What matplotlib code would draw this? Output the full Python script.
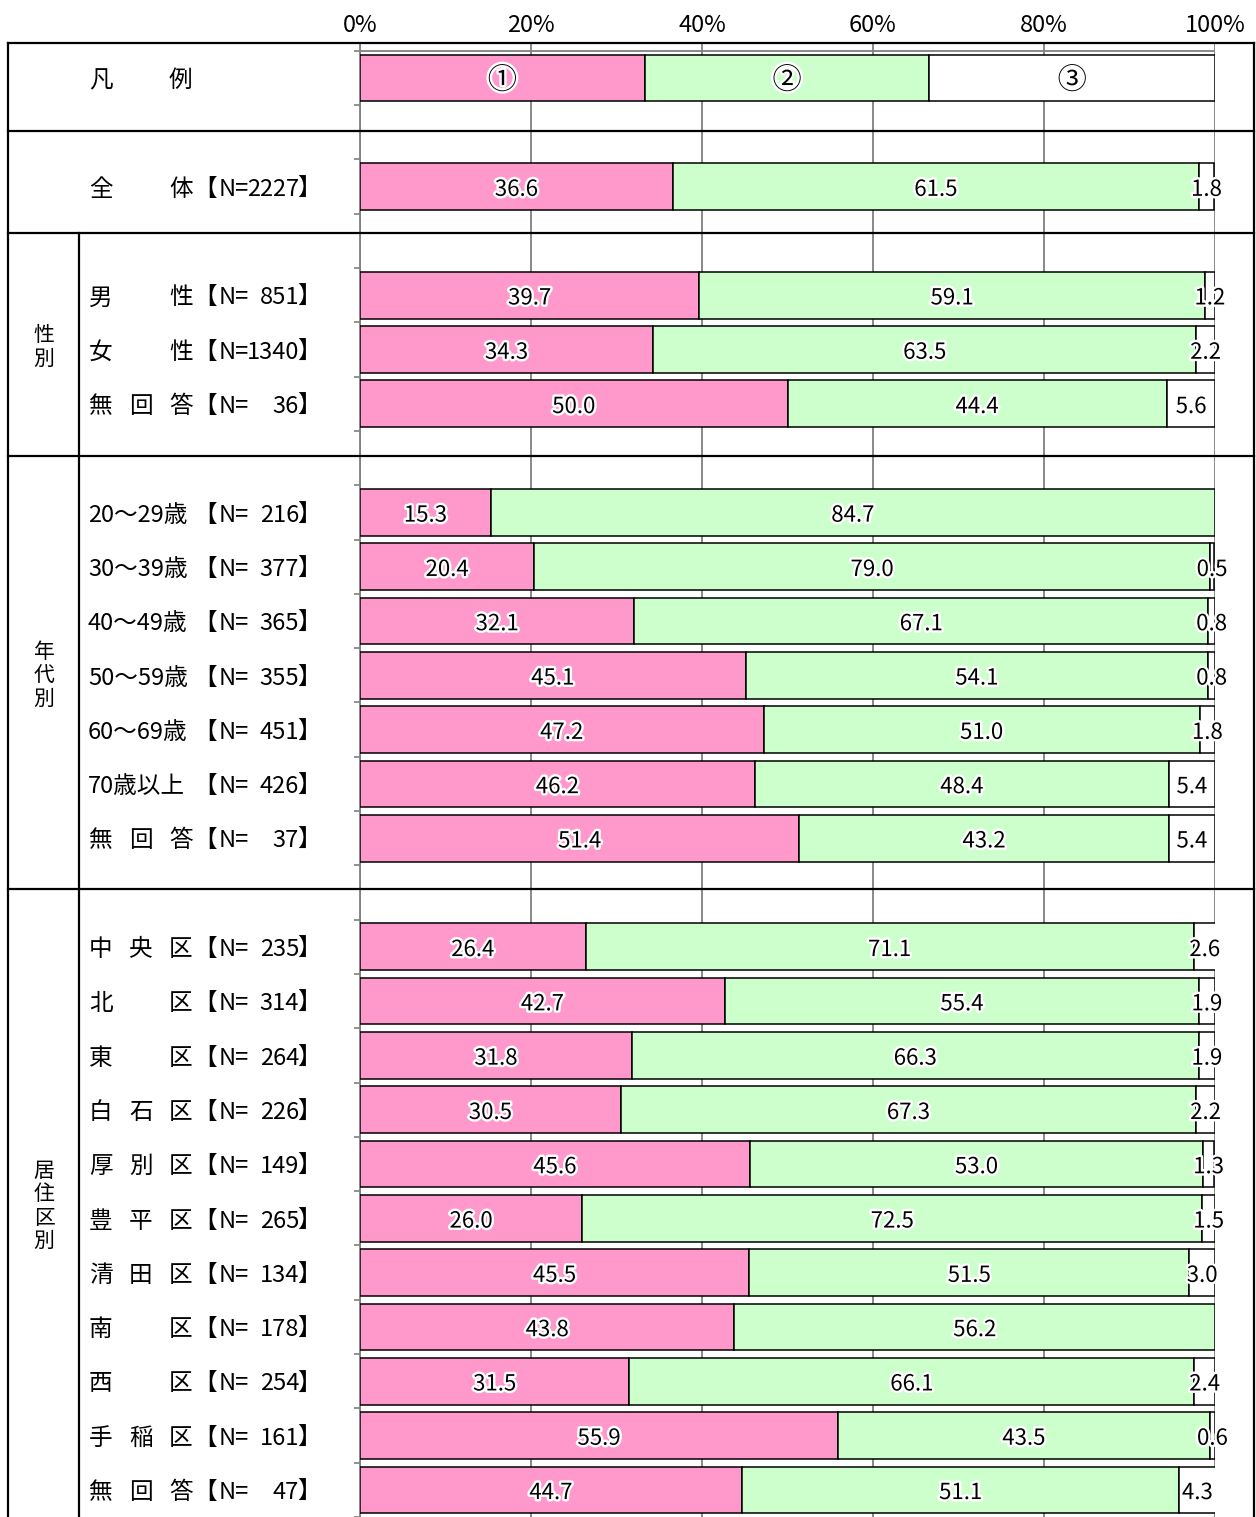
import numpy as np
import matplotlib
matplotlib.use("Agg")
import matplotlib.pyplot as plt
import matplotlib.patheffects as pe
from matplotlib.transforms import blended_transform_factory
from matplotlib.lines import Line2D

plt.rcParams['font.family'] = ['Noto Sans CJK JP', 'DejaVu Sans']

W, H = 1256, 1517

# --- データ ---
names = ["全体", "男性", "女性", "無回答",
         "20～29歳", "30～39歳", "40～49歳", "50～59歳", "60～69歳", "70歳以上", "無回答",
         "中央区", "北区", "東区", "白石区", "厚別区", "豊平区", "清田区", "南区", "西区", "手稲区", "無回答"]
ns = ["2227", "851", "1340", "36",
      "216", "377", "365", "355", "451", "426", "37",
      "235", "314", "264", "226", "149", "265", "134", "178", "254", "161", "47"]
v1 = [36.6, 39.7, 34.3, 50.0, 15.3, 20.4, 32.1, 45.1, 47.2, 46.2, 51.4,
      26.4, 42.7, 31.8, 30.5, 45.6, 26.0, 45.5, 43.8, 31.5, 55.9, 44.7]
v2 = [61.5, 59.1, 63.5, 44.4, 84.7, 79.0, 67.1, 54.1, 51.0, 48.4, 43.2,
      71.1, 55.4, 66.3, 67.3, 53.0, 72.5, 51.5, 56.2, 66.1, 43.5, 51.1]
v3 = [1.8, 1.2, 2.2, 5.6, 0.0, 0.5, 0.8, 0.8, 1.8, 5.4, 5.4,
      2.6, 1.9, 1.9, 2.2, 1.3, 1.5, 3.0, 0.0, 2.4, 0.6, 4.3]
slots = [2, 4, 5, 6, 8, 9, 10, 11, 12, 13, 14,
         16, 17, 18, 19, 20, 21, 22, 23, 24, 25, 26]
legend_vals = [33.3, 33.3, 33.4]
legend_marks = ["①", "②", "③"]
groups = [("性別", 2.85, 6.96), ("年代別", 6.96, 14.94), ("居住区別", 14.94, 26.5)]
sep_lines = [0.98, 2.85, 6.96, 14.94]
colors = ["#FF99CC", "#CCFFCC", "#FFFFFF"]

fig = plt.figure(figsize=(W / 100, H / 100), dpi=100)
ax = fig.add_axes([360 / W, 0, 855 / W, (H - 43) / H])
ax.set_xlim(0, 100)
ax.set_ylim(26.5, -0.645)

stroke = [pe.withStroke(linewidth=3.5, foreground="white")]
bh = 0.86
dy = 0.05   # 文字の縦位置の補正

# 凡例の棒
left = 0
for v, c, m in zip(legend_vals, colors, legend_marks):
    ax.barh(0, v, left=left, height=bh, color=c, edgecolor="black", linewidth=1.1, zorder=3)
    ax.text(left + v / 2, 0 + dy, m, ha="center", va="center", fontsize=21, zorder=5, path_effects=stroke)
    left += v

# データの棒
for s, a, b, c3 in zip(slots, v1, v2, v3):
    left = 0
    for v, c in zip([a, b, c3], colors):
        if v <= 0:
            continue
        ax.barh(s, v, left=left, height=bh, color=c, edgecolor="black", linewidth=1.1, zorder=3)
        ax.text(left + v / 2, s + dy, f"{v:.1f}", ha="center", va="center", fontsize=16,
                zorder=5, path_effects=stroke, clip_on=False)
        left += v

# 軸まわり
ax.xaxis.tick_top()
ax.set_xticks(np.arange(0, 101, 20))
ax.set_xticklabels([f"{t}%" for t in range(0, 101, 20)], fontsize=17)
ax.tick_params(axis="x", length=0, pad=4)
ax.set_yticks([])
ax.set_yticks(np.arange(-0.5, 27, 1), minor=True)
ax.tick_params(axis="y", which="minor", direction="out", length=4, color="#808080", width=1.2)
ax.grid(axis="x", color="#808080", linewidth=1.3, zorder=1)
for sp in ["top", "right", "bottom"]:
    ax.spines[sp].set_visible(False)
ax.spines["left"].set_color("#808080")
ax.spines["left"].set_linewidth(1.3)
ax.axhline(-0.5, color="#808080", linewidth=1.3, zorder=2)

# 左側のラベル
tr = blended_transform_factory(fig.transFigure, ax.transData)

def put(x, y, txt, ha="left", size=17):
    ax.text(x / W, y + dy, txt, transform=tr, ha=ha, va="center", fontsize=size)

def spread(txt, y, x0=89, x1=169):
    for i, ch in enumerate(txt):
        put(x0 + (x1 - x0) * i / (len(txt) - 1), y, ch)

spread("凡例", 0)
for s, name, n in zip(slots, names, ns):
    if any(ch.isdigit() for ch in name):
        put(88, s, name)
    else:
        spread(name, s)
    put(193, s, "【")
    put(219, s, "N=")
    put(299, s, n, ha="right")
    put(297, s, "】")

for g, y0, y1 in groups:
    yc = (y0 + y1) / 2
    step = 0.43
    for i, ch in enumerate(g):
        yy = yc + (i - (len(g) - 1) / 2) * step
        ax.text(44 / W, yy + dy, ch, transform=tr, ha="center", va="center", fontsize=15)

# 表の罫線
for y in sep_lines:
    ax.add_line(Line2D([8 / W, 1254 / W], [y, y], transform=tr, color="black",
                       linewidth=1.6, clip_on=False, zorder=6))
ax.add_line(Line2D([79 / W, 79 / W], [2.85, 26.5], transform=tr, color="black",
                   linewidth=1.6, clip_on=False, zorder=6))
ftop = 1 - 43 / H
fig.add_artist(Line2D([8 / W, 1254 / W], [ftop, ftop], color="black", linewidth=1.6))
fig.add_artist(Line2D([8 / W, 8 / W], [0, ftop], color="black", linewidth=1.6))
fig.add_artist(Line2D([1254 / W, 1254 / W], [0, ftop], color="black", linewidth=1.6))

fig.savefig("out.png", dpi=100)
